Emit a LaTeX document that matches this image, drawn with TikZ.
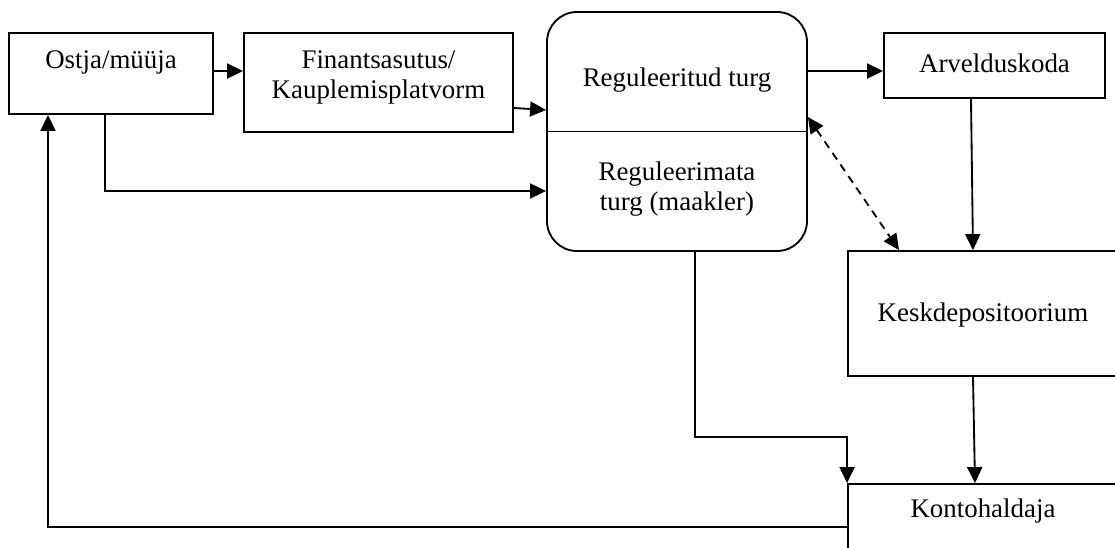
\documentclass[tikz,border=0pt]{standalone}
\usepackage{fontspec}
\setmainfont{Liberation Serif}
\usetikzlibrary{arrows.meta}

\begin{document}
\begin{tikzpicture}[x=0.2mm,y=-0.2mm]
      \tikzstyle{box}=[draw=black, line width=1.05pt, inner sep=0pt]
      \tikzstyle{box_round}=[box, rounded corners=6mm]
      \tikzstyle{box_text}=[draw=none, fill=none, align=center, font=\fontsize{15.3}{17}\selectfont]
      \tikzstyle{conn}=[line width=1.05pt, -{Triangle[length=3.2mm,width=3mm]}]
      \tikzstyle{conn_both}=[conn, dash pattern=on 1.6mm off 1.2mm, {Triangle[length=3.2mm,width=3mm]}-{Triangle[length=3.2mm,width=3mm]}]

      \useasboundingbox (0,0) rectangle (1115,547);
      \clip (0,0) rectangle (1115,547);

      % boxes
      \node (ostja) [box, minimum width=40.8mm, minimum height=16.2mm] at (111,73.5) {};
      \node at ([yshift=-6mm]ostja.north) [box_text] {Ostja/müüja};

      \node (fin) [box, minimum width=53.8mm, minimum height=19.8mm] at (378.5,82.5) {};
      \node at ([yshift=-9mm]fin.north) [box_text] {Finantsasutus/\\Kauplemisplatvorm};

      \node (market) [box_round, minimum width=52mm, minimum height=47.8mm] at (677,131.5) {};
      \draw [line width=1.05pt] (market.west) -- (market.east);
      \node at ([yshift=10.3mm]market.center) [box_text] {Reguleeritud turg};
      \node at ([yshift=-11.5mm]market.center) [box_text] {Reguleerimata\\turg (maakler)};

      \node (arv) [box, minimum width=44.2mm, minimum height=13mm] at (994.5,65.5) {};
      \node at ([yshift=0.5mm]arv.center) [box_text] {Arvelduskoda};

      \node (kesk) [box, minimum width=54mm, minimum height=25mm] at (983,313.5) {};
      \node at ([yshift=-0.3mm]kesk.center) [box_text] {Keskdepositoorium};

      \node (konto) [box, minimum width=54mm, minimum height=16.2mm] at (983,524.5) {};
      \node at ([yshift=-5.6mm]konto.north) [box_text] {Kontohaldaja};

      % connectors
      \draw [conn] ([yshift=0.5mm]ostja.east) -- ([yshift=0.5mm]ostja.east -| fin.west);
      \draw [conn] ([yshift=-5.1mm]fin.east) -- ([yshift=4.3mm]market.west);
      \draw [conn] ([xshift=-1.2mm]ostja.south) |- ([yshift=-11.9mm]market.west);
      \draw [conn] ([yshift=12.1mm]market.east) -- ([yshift=12.1mm]market.east -| arv.west);
      \draw [conn_both] ([yshift=2.9mm]market.east) -- ([xshift=-16.8mm]kesk.north);
      \draw [conn] ([xshift=-4.7mm]arv.south) -- ([xshift=-2mm]kesk.north);
      \draw [conn] ([xshift=-2mm]kesk.south) -- ([xshift=-1.6mm]konto.north);
      \draw [conn] ([xshift=3.6mm]market.south) |- ([yshift=9.2mm]konto.north west) -- (konto.north west);
      \draw [conn] ([yshift=-0.5mm]konto.west) -| ([xshift=-12.6mm]ostja.south);
\end{tikzpicture}
\end{document}
